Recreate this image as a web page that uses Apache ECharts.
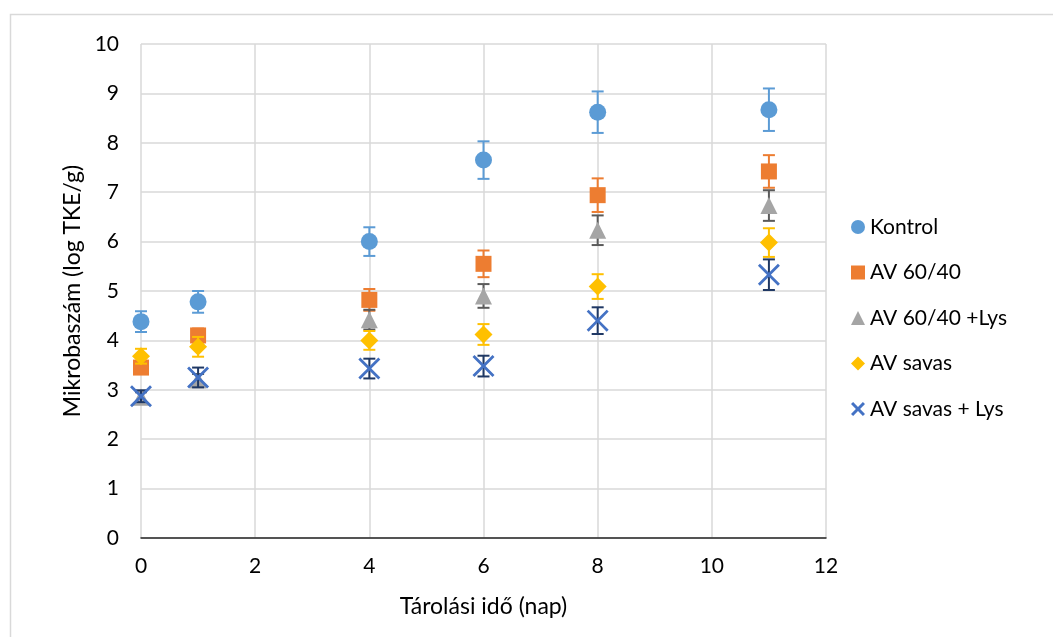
<!DOCTYPE html>
<html>
<head>
<meta charset="utf-8">
<script src="https://cdn.jsdelivr.net/npm/echarts@6/dist/echarts.min.js"></script>
<style>html,body{margin:0;padding:0;background:#fff}#c{width:1053px;height:637px}</style>
</head>
<body>
<div id="c"></div>
<script>
const days = [0, 1, 4, 6, 8, 11];
const seriesNames = ['Kontrol', 'AV 60/40', 'AV 60/40 +Lys', 'AV savas', 'AV savas + Lys'];
const kontrol = [4.38, 4.78, 6.00, 7.65, 8.62, 8.67];
const kontrolErr = [0.21, 0.22, 0.29, 0.38, 0.42, 0.43];
const av6040 = [3.45, 4.10, 4.82, 5.55, 6.94, 7.42];
const av6040Err = [0.12, 0.14, 0.22, 0.27, 0.34, 0.33];
const av6040Lys = [2.85, 3.20, 4.42, 4.90, 6.23, 6.73];
const av6040LysErr = [0.10, 0.12, 0.20, 0.24, 0.30, 0.31];
const avSavas = [3.68, 3.87, 4.00, 4.12, 5.09, 5.98];
const avSavasErr = [0.15, 0.20, 0.19, 0.21, 0.25, 0.29];
const avSavasLys = [2.87, 3.25, 3.43, 3.48, 4.40, 5.33];
const avSavasLysErr = [0.12, 0.20, 0.20, 0.21, 0.27, 0.31];
const xTicks = [0, 2, 4, 6, 8, 10, 12];
const yTicks = [0, 1, 2, 3, 4, 5, 6, 7, 8, 9, 10];

const xPath = 'path://M0 9 L9 0 L50 41 L91 0 L100 9 L59 50 L100 91 L91 100 L50 59 L9 100 L0 91 L41 50 Z';
const xIcon = 'path://M0 15 L15 0 L50 35 L85 0 L100 15 L65 50 L100 85 L85 100 L50 65 L15 100 L0 85 L35 50 Z';
const defs = [
  {name: seriesNames[0], vals: kontrol, err: kontrolErr, color: '#5B9BD5', errColor: '#5B9BD5', symbol: 'circle', size: 17, icon: 'circle'},
  {name: seriesNames[1], vals: av6040, err: av6040Err, color: '#ED7D31', errColor: '#ED7D31', symbol: 'rect', size: 16, icon: 'rect'},
  {name: seriesNames[2], vals: av6040Lys, err: av6040LysErr, color: '#A5A5A5', errColor: '#5A5A5A', symbol: 'triangle', size: 17, icon: 'triangle'},
  {name: seriesNames[3], vals: avSavas, err: avSavasErr, color: '#FFC000', errColor: '#FFC000', symbol: 'diamond', size: 18, icon: 'diamond'},
  {name: seriesNames[4], vals: avSavasLys, err: avSavasLysErr, color: '#4472C4', errColor: '#1F3864', symbol: xPath, size: 22, icon: xIcon}
];

const series = [];
defs.forEach((d, si) => {
  const errData = days.map((x, i) => [x, d.vals[i] - d.err[i], d.vals[i] + d.err[i]]);
  series.push({
    type: 'custom',
    name: d.name + ' (hiba)',
    z: 2 + si * 2,
    silent: true,
    itemStyle: {color: d.errColor},
    data: errData,
    encode: {x: 0, y: [1, 2]},
    renderItem: function (params, api) {
      const x = api.value(0);
      const lo = api.coord([x, api.value(1)]);
      const hi = api.coord([x, api.value(2)]);
      const cw = 6;
      const st = {stroke: d.errColor, lineWidth: 2};
      return {
        type: 'group',
        children: [
          {type: 'line', shape: {x1: lo[0], y1: lo[1], x2: hi[0], y2: hi[1]}, style: st},
          {type: 'line', shape: {x1: lo[0] - cw, y1: lo[1], x2: lo[0] + cw, y2: lo[1]}, style: st},
          {type: 'line', shape: {x1: hi[0] - cw, y1: hi[1], x2: hi[0] + cw, y2: hi[1]}, style: st}
        ]
      };
    }
  });
  series.push({
    type: 'scatter',
    name: d.name,
    z: 3 + si * 2,
    symbol: d.symbol,
    symbolSize: d.size,
    itemStyle: {color: d.color, opacity: 1},
    data: days.map((x, i) => [x, d.vals[i]])
  });
});

const chart = echarts.init(document.getElementById('c'), null, {renderer: 'canvas'});
const font = 'Lato, "Open Sans", sans-serif';
chart.setOption({
  animation: false,
  backgroundColor: '#fff',
  textStyle: {fontFamily: font},
  graphic: [{
    type: 'rect', left: 8, top: 12, z: -10,
    shape: {width: 1060, height: 640},
    style: {fill: 'none', stroke: '#D9D9D9', lineWidth: 1.5}
  }],
  grid: {left: 141, right: 227, top: 44, bottom: 99, containLabel: false},
  legend: {
    orient: 'vertical',
    left: 846, top: 210,
    itemWidth: 14, itemHeight: 14, itemGap: 21.5,
    textStyle: {fontSize: 21, color: '#000', fontFamily: font, lineHeight: 24},
    data: defs.map(d => ({name: d.name, icon: d.icon}))
  },
  xAxis: {
    type: 'value', min: 0, max: 12, interval: 2,
    name: 'Tárolási idő (nap)', nameLocation: 'middle', nameGap: 57,
    nameTextStyle: {fontSize: 23, color: '#000', fontFamily: font},
    axisLine: {show: true, onZero: false, lineStyle: {color: '#262626', width: 1.5}},
    axisTick: {show: false},
    axisLabel: {fontSize: 21, color: '#000', margin: 18, fontFamily: font},
    splitLine: {show: true, lineStyle: {color: '#D9D9D9', width: 1.5}}
  },
  yAxis: {
    type: 'value', min: 0, max: 10, interval: 1,
    name: 'Mikrobaszám (log TKE/g)', nameLocation: 'middle', nameGap: 57,
    nameTextStyle: {fontSize: 23, color: '#000', fontFamily: font},
    axisLine: {show: false},
    axisTick: {show: false},
    axisLabel: {fontSize: 21, color: '#000', margin: 22, fontFamily: font},
    splitLine: {show: true, lineStyle: {color: '#D9D9D9', width: 1.5}}
  },
  series: series
});
</script>
</body>
</html>
